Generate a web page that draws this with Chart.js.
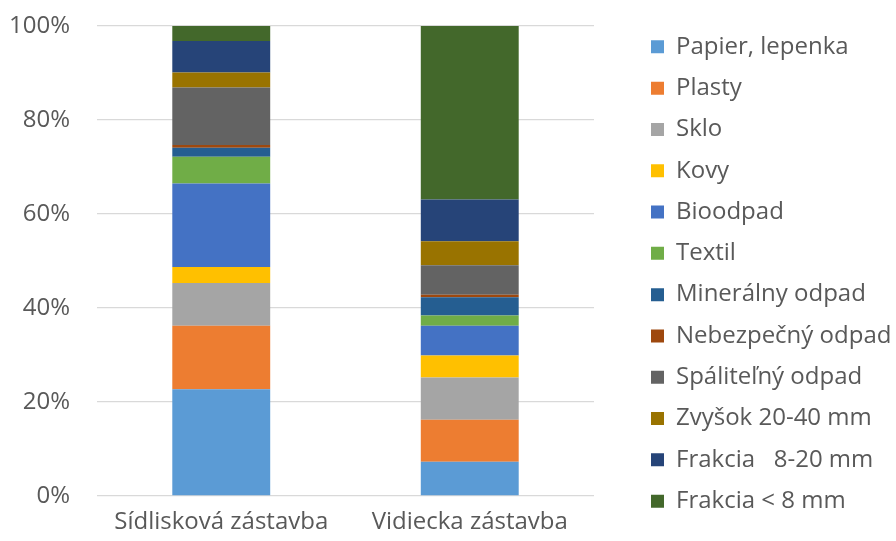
<!DOCTYPE html>
<html>
<head>
<meta charset="utf-8">
<script src="https://cdn.jsdelivr.net/npm/chart.js@4/dist/chart.umd.min.js"></script>
<style>
html,body{margin:0;padding:0;background:#fff;}
#wrap{width:896px;height:541px;position:relative;}
</style>
</head>
<body>
<div id="wrap"><canvas id="c" width="896" height="541"></canvas></div>
<script>
// ---- data (percent shares) ----
const categories = ['Sídlisková zástavba', 'Vidiecka zástavba'];
const yTicks = [0, 20, 40, 60, 80, 100];
const papier = [22.7, 7.3];
const plasty = [13.5, 8.9];
const sklo = [9.1, 9.0];
const kovy = [3.4, 4.7];
const bioodpad = [17.8, 6.3];
const textil = [5.7, 2.2];
const mineralny = [1.9, 3.9];
const nebezpecny = [0.6, 0.5];
const spalitelny = [12.2, 6.3];
const zvysok = [3.2, 5.1];
const frakcia820 = [6.7, 8.9];
const frakcia8 = [3.2, 36.9];

const seriesNames = ['Papier, lepenka', 'Plasty', 'Sklo', 'Kovy', 'Bioodpad', 'Textil',
  'Minerálny odpad', 'Nebezpečný odpad', 'Spáliteľný odpad', 'Zvyšok 20-40 mm',
  'Frakcia   8-20 mm', 'Frakcia < 8 mm'];
const seriesValues = [papier, plasty, sklo, kovy, bioodpad, textil, mineralny, nebezpecny,
  spalitelny, zvysok, frakcia820, frakcia8];
const seriesColors = ['#5B9BD5', '#ED7D31', '#A5A5A5', '#FFC000', '#4472C4', '#70AD47',
  '#255E91', '#9E480E', '#636363', '#997300', '#264478', '#43682B'];

// ---- layout constants ----
const FONT = '"Open Sans", "DejaVu Sans", sans-serif';
const FS = 24;
const LEG_PAD = 41.3 - FS;
const BOX = 13;
const BOX_X = 651;
const PLOT_RIGHT = 594;

const mctx = document.createElement('canvas').getContext('2d');
mctx.font = FS + 'px ' + FONT;
let maxW = 0;
seriesNames.forEach(n => { maxW = Math.max(maxW, mctx.measureText(n).width); });
const padRight = 896 - BOX_X - 10 - (BOX + FS / 2 + maxW);

Chart.defaults.font.family = FONT;
Chart.defaults.color = '#595959';

new Chart(document.getElementById('c'), {
  type: 'bar',
  data: {
    labels: categories,
    datasets: seriesNames.map((n, i) => ({
      label: n,
      data: seriesValues[i],
      backgroundColor: seriesColors[i],
      borderWidth: 0,
      barPercentage: 0.394,
      categoryPercentage: 1.0
    }))
  },
  options: {
    responsive: false,
    animation: false,
    layout: { padding: { top: 7, right: padRight, bottom: 0, left: 0 } },
    plugins: {
      legend: {
        position: 'right',
        align: 'center',
        maxWidth: 600,
        labels: {
          font: { size: FS, family: FONT },
          color: '#595959',
          boxWidth: BOX,
          boxHeight: BOX,
          padding: LEG_PAD
        }
      },
      tooltip: { enabled: false }
    },
    scales: {
      x: {
        stacked: true,
        grid: { display: false },
        border: { display: false },
        ticks: { font: { size: FS }, color: '#595959', padding: 4 },
        afterFit: s => { s.height = 45; }
      },
      xTop: {
        type: 'category',
        labels: categories,
        position: 'top',
        grid: { display: false },
        border: { display: false },
        ticks: { display: false },
        afterFit: s => { s.height = 19; }
      },
      y: {
        stacked: true,
        min: 0,
        max: 100,
        afterBuildTicks: s => { s.ticks = yTicks.map(v => ({ value: v })); },
        grid: { color: '#D9D9D9', lineWidth: 1.3, drawTicks: false },
        border: { display: false },
        ticks: { font: { size: FS }, color: '#595959', padding: 27, callback: v => v + '%' },
        afterFit: s => { s.width = 97; s.paddingTop = 0; s.paddingBottom = 0; }
      },
      yRight: {
        position: 'right',
        min: 0, max: 100,
        grid: { display: false },
        border: { display: false },
        ticks: { display: false },
        afterFit: s => { s.width = (BOX_X - LEG_PAD) - PLOT_RIGHT; s.paddingTop = 0; s.paddingBottom = 0; }
      }
    }
  }
});
</script>
</body>
</html>
